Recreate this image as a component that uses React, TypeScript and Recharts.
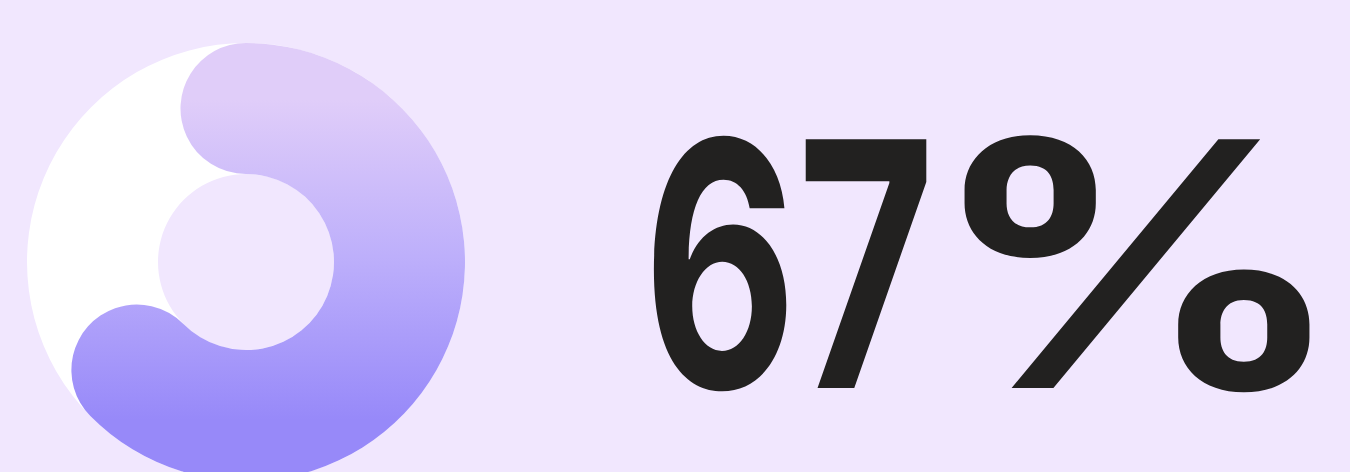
import React from 'react';
import { PieChart, Pie, Cell } from 'recharts';

// progress value shown by the ring
const progress = [{ name: 'done', value: 67 }];
const track = [{ name: 'track', value: 100 }];
const number = '67';
const unit = '%';

// visual arc: cap centres at 0deg (top) and ~225deg clockwise
const CAP_START = 0;
const CAP_END = 225.3;
const INNER = 88;
const OUTER = 219;
const CORNER = (OUTER - INNER) / 2;
const capOffset = (Math.asin(CORNER / (INNER + CORNER)) * 180) / Math.PI;

export default function App() {
  return (
    <div style={{ position: 'absolute', left: 0, top: 0, width: 1350, height: 472, background: '#f1e7fe', overflow: 'hidden' }}>
      <PieChart width={1350} height={472} margin={{ top: 0, right: 0, bottom: 0, left: 0 }}>
        <defs>
          <linearGradient id="ringFill" gradientUnits="userSpaceOnUse" x1="0" y1="43" x2="0" y2="481">
            <stop offset="0.13" stopColor="#e0cdf9" />
            <stop offset="0.5" stopColor="#bcaefb" />
            <stop offset="0.86" stopColor="#9789f9" />
          </linearGradient>
        </defs>
        <Pie
          data={track}
          dataKey="value"
          cx={246}
          cy={262}
          innerRadius={INNER}
          outerRadius={OUTER}
          startAngle={90}
          endAngle={-270}
          stroke="none"
          fill="#ffffff"
          isAnimationActive={false}
        />
        <Pie
          data={progress}
          dataKey="value"
          cx={246}
          cy={262}
          innerRadius={INNER}
          outerRadius={OUTER}
          startAngle={90 + capOffset - CAP_START}
          endAngle={90 - CAP_END - capOffset}
          cornerRadius={CORNER}
          stroke="none"
          isAnimationActive={false}
        >
          {progress.map((d) => (
            <Cell key={d.name} fill="url(#ringFill)" />
          ))}
        </Pie>
        <text
          x={643}
          y={388}
          fill="#222120"
          fontFamily="Inter, 'Liberation Sans', sans-serif"
          fontWeight={700}
          fontSize={342}
        >
          <tspan textLength={292} lengthAdjust="spacingAndGlyphs">{number}</tspan>
          <tspan dx={-8} textLength={420} lengthAdjust="spacingAndGlyphs">{unit}</tspan>
        </text>
      </PieChart>
    </div>
  );
}
